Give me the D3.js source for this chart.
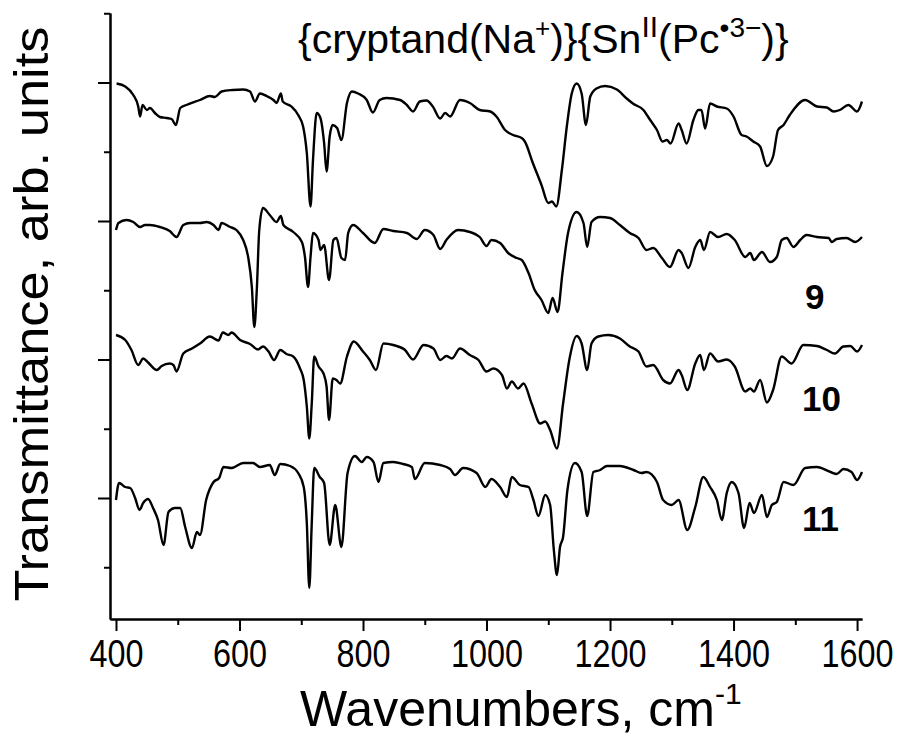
<!DOCTYPE html>
<html>
<head>
<meta charset="utf-8">
<script src="https://cdn.jsdelivr.net/npm/d3@7/dist/d3.min.js"></script>
<style>
  html, body { margin: 0; padding: 0; background: #fff; }
  svg { display: block; }
</style>
</head>
<body>
<script>
// ---- Data (wavenumber in cm-1, transmittance in arb. units relative to each trace's baseline) ----
const seriesNames = ["{cryptand(Na+)}{SnII(Pc•3−)}", "9", "10", "11"];
const seriesOffsets = [415.5, 277, 138.5, 0];

const wn1 = [401,415,428,436,439,443,450,455,463,471,482,490,497,504,514,536,552,560,571,589,606,617,625,633,644,655,660,667,670,684,695,703,709,715,719,725,731,737,741,746,751,758,765,774,782,792,806,816,827,838,860,871,881,892,903,913,925,933,941,957,973,989,1006,1016,1030,1043,1057,1062,1075,1089,1100,1106,1113,1122,1130,1138,1146,1154,1161,1168,1178,1192,1211,1227,1237,1254,1265,1276,1285,1292,1298,1311,1316,1324,1335,1343,1348,1354,1362,1373,1389,1400,1413,1421,1432,1443,1454,1464,1472,1481,1491,1516,1535,1551,1562,1572,1586,1600,1608];
const t1 = [-1,-4,-12.5,-24,-34,-22.5,-27.5,-25.5,-30.5,-34.5,-35.5,-36.5,-42.5,-25.5,-22.5,-17.5,-13.5,-14.5,-9,-7.5,-7,-9,-19,-11,-13.5,-17.5,-20.5,-11,-19,-24,-32.5,-44,-70.5,-124,-77.5,-30.5,-35.5,-60.5,-89,-54,-42.5,-45.5,-57.5,-20.5,-9,-11,-17.5,-30,-17.5,-15.5,-17.5,-22.5,-29,-19,-18,-24,-36,-30.5,-34,-17.5,-20.5,-27.5,-29,-34,-47.5,-52.5,-55.5,-59,-80.5,-102.5,-120.5,-119,-124,-87.5,-44,-11,-1,-11,-42.5,-14,-6,-3.5,-7,-16,-21,-27.5,-37.5,-47.5,-59,-57.5,-61,-41,-47.5,-61,-37.5,-27.5,-27.5,-46,-21,-24,-26,-34,-52.5,-54,-59,-64,-83.5,-74,-47.5,-42.5,-32.5,-17.5,-24,-25,-29,-27.5,-22.5,-29,-19];

const wn2 = [400,404,417,428,439,447,455,471,487,498,509,520,536,547,558,566,571,585,595,606,614,620,624,628,632,638,649,660,667,671,687,701,706,711,715,719,728,731,737,745,752,757,765,771,776,784,800,819,833,849,871,887,900,914,925,935,954,973,989,1000,1008,1022,1035,1049,1057,1068,1078,1089,1100,1107,1115,1123,1132,1146,1157,1163,1170,1184,1200,1216,1232,1246,1259,1270,1284,1297,1311,1316,1327,1338,1346,1352,1362,1375,1389,1402,1419,1427,1433,1446,1459,1470,1478,1486,1497,1508,1518,1535,1554,1559,1567,1583,1597,1608];
const t2 = [-9,-2,1,-1,-6,-4,-4,-6,-10,-16,-4,-2,-2,-1,-4,-9,-2,-6,-9,-19,-36,-66,-106,-69,-9,13,6,-1,5,-4,-11,-21,-36,-66,-36,-12,-19,-29,-24,-59,-19,-17,-37,-39,-12,-4,-12,-22,-8,-10,-12,-18,-9,-14,-28,-19,-9,-11,-16,-25,-19,-22,-32,-37,-39,-52,-69,-79,-92,-77,-91,-52,-12,9,-2,-26,-1,4,3,-4,-12,-17,-29,-27,-37,-46,-29,-32,-47,-26,-19,-29,-11,-16,-13,-19,-36,-32,-39,-31,-41,-36,-19,-17,-26,-19,-14,-16,-17,-21,-18,-17,-21,-16];

const wn3 = [400,415,425,436,444,452,466,474,487,493,498,509,523,536,552,566,573,582,587,601,617,630,638,647,656,666,676,687,698,704,709,713,717,721,728,736,741,745,751,757,763,774,785,800,811,821,833,849,868,881,898,914,925,935,944,957,973,987,1000,1011,1025,1033,1041,1051,1060,1073,1087,1095,1103,1114,1124,1134,1146,1154,1163,1170,1181,1197,1216,1232,1246,1259,1270,1286,1297,1311,1316,1325,1338,1346,1352,1362,1375,1389,1402,1419,1427,1433,1443,1454,1464,1478,1494,1513,1535,1551,1564,1578,1589,1600,1608];
const t3 = [24.5,19.5,9.5,-5.5,1,-3,-10.5,-6.5,-4,-5.5,-12,6,11,16,23,19,27,24.5,27,19.5,15.5,10,13,8,-0.5,9.5,5.5,3,-9,-20.5,-47,-79,-44,3,-7,-14,-27,-60.5,-19,-20.5,-24,3,18,8,-0.5,-10.5,16,14.5,9.5,0,14.5,11,-0.5,3.5,1,11,4.5,-0.5,-12,-9,-15.5,-29,-22,-29,-24,-44,-64,-62,-70.5,-89,-44,-0.5,23.5,16,-10.5,16,23,24.5,21,13,8,-7,-5.5,-20.5,-24,-10.5,-15.5,-30.5,-4,4.5,-10.5,6,-2,0,-7,-32,-29,-32,-20.5,-43,-30.5,3,-4,14.5,13.5,9.5,6,13,13.5,8,14.5];

const wn4 = [400,405,415,423,431,438,444,452,460,468,477,485,495,504,512,523,531,536,546,558,567,574,587,606,622,633,649,657,666,682,695,704,709,713,717,721,730,737,746,755,765,775,787,798,806,817,825,833,849,865,879,884,900,925,941,949,962,984,998,1008,1022,1033,1041,1054,1068,1076,1084,1095,1103,1109,1114,1119,1124,1131,1143,1154,1163,1173,1184,1195,1216,1238,1251,1259,1276,1286,1300,1311,1325,1338,1351,1362,1373,1381,1389,1397,1408,1417,1426,1433,1446,1454,1462,1470,1481,1497,1516,1535,1557,1567,1578,1591,1600,1608];
const t4 = [-2,15,11,10,0,-12,-5,-1,-10,-22,-47,-14,-10,-10,-29,-50,-34,-37,-2,16,20,31,30,35,35,31,33,23,34,32,25,11,-25,-90,-25,30,21,15,-47,-7,-49,25,42,36,41,36,16,35,36,34,31,19,35,33,29,23,30,25,11,19,11,1,21,13,11,-2,-18,3,-7,-52,-77,-49,-39,8,35,26,-18,26,28,32,32,28,25,26,16,-2,-7,-2,-32,-9,21,11,-2,-22,5,16,5,-30,-5,-15,3,-19,-7,-4,16,13,30,31,26,24,29,26,18,26];

const xMajorTicks = [400, 600, 800, 1000, 1200, 1400, 1600];
const xMinorTicks = [500, 700, 900, 1100, 1300, 1500];
const yMajorTicks = [0, 138.5, 277, 415.5];
const yMinorTicks = [-69.25, 69.25, 207.75, 346.25, 484.75];

const xLabel = "Wavenumbers, cm";
const xLabelSup = "-1";
const yLabel = "Transmittance, arb. units";
const compoundLabels = ["9", "10", "11"];

// ---- Build ----
const W = 900, H = 744;
const svg = d3.select("body").append("svg").attr("width", W).attr("height", H);

const x = d3.scaleLinear().domain([390.3, 1608]).range([110, 862]);
const y = d3.scaleLinear().domain([-121, 485]).range([619, 13]);

const spectra = [[wn1, t1], [wn2, t2], [wn3, t3], [wn4, t4]].map(([w, t], i) =>
  w.slice(0, Math.min(w.length, t.length)).map((v, j) => ({ w: v, t: t[j] + seriesOffsets[i] })));

const line = d3.line().x(d => x(d.w)).y(d => y(d.t)).curve(d3.curveMonotoneX);

svg.append("g").selectAll("path").data(spectra).join("path")
  .attr("d", line)
  .attr("fill", "none")
  .attr("stroke", "#000")
  .attr("stroke-width", 2.4)
  .attr("stroke-linejoin", "round");

// Axes
const axisStyle = g => {
  g.select(".domain").attr("stroke", "#000").attr("stroke-width", 2);
  g.selectAll(".tick line").attr("stroke", "#000").attr("stroke-width", 2);
};

svg.append("g").attr("transform", "translate(0,619)")
  .call(d3.axisBottom(x).tickValues(xMinorTicks).tickSize(6).tickSizeOuter(0).tickFormat(""))
  .call(axisStyle);

const gx = svg.append("g").attr("transform", "translate(0,619)")
  .call(d3.axisBottom(x).tickValues(xMajorTicks).tickSize(12).tickSizeOuter(0).tickPadding(9).tickFormat(d3.format("d")))
  .call(axisStyle);
gx.selectAll(".tick text")
  .attr("font-family", "'Liberation Sans Narrow', 'Arial Narrow', 'Liberation Sans', Arial, sans-serif")
  .attr("font-size", 38)
  .attr("fill", "#000")
  .attr("textLength", d => String(d).length * 18)
  .attr("lengthAdjust", "spacingAndGlyphs");

svg.append("g").attr("transform", "translate(110,0)")
  .call(d3.axisLeft(y).tickValues(yMinorTicks).tickSize(6).tickSizeOuter(0).tickFormat(""))
  .call(axisStyle);
svg.append("g").attr("transform", "translate(110,0)")
  .call(d3.axisLeft(y).tickValues(yMajorTicks).tickSize(12).tickSizeOuter(0).tickFormat(""))
  .call(axisStyle);

// Axis titles
const xt = svg.append("text")
  .attr("x", 300).attr("y", 726)
  .attr("font-family", "'Liberation Sans', Arial, sans-serif")
  .attr("font-size", 50)
  .attr("fill", "#000");
xt.append("tspan").text(xLabel);
xt.append("tspan").attr("font-size", 30).attr("dy", -22).text(xLabelSup);

svg.append("text")
  .attr("transform", "translate(48,314) rotate(-90)")
  .attr("text-anchor", "middle")
  .attr("font-family", "'Liberation Sans', Arial, sans-serif")
  .attr("font-size", 48)
  .attr("textLength", 575)
  .attr("lengthAdjust", "spacingAndGlyphs")
  .attr("fill", "#000")
  .text(yLabel);

// Title
const tt = svg.append("text")
  .attr("x", 298).attr("y", 53)
  .attr("font-family", "'Liberation Sans', Arial, sans-serif")
  .attr("font-size", 41)
  .attr("fill", "#000");
tt.append("tspan").text("{cryptand(Na");
tt.append("tspan").attr("font-size", 26).attr("dy", -16).text("+");
tt.append("tspan").attr("dy", 16).text(")}{Sn");
tt.append("tspan").attr("font-size", 30).attr("dy", -16).text("II");
tt.append("tspan").attr("dy", 16).text("(Pc");
tt.append("tspan").attr("font-size", 28).attr("dy", -16).text("•3−");
tt.append("tspan").attr("dy", 16).text(")}");

// Compound labels
const labelPos = [[805, 309], [802, 411], [802, 531]];
svg.append("g").selectAll("text").data(compoundLabels).join("text")
  .attr("x", (d, i) => labelPos[i][0])
  .attr("y", (d, i) => labelPos[i][1])
  .attr("font-family", "'Liberation Sans', Arial, sans-serif")
  .attr("font-weight", "bold")
  .attr("font-size", 35)
  .attr("fill", "#000")
  .text(d => d);
</script>
</body>
</html>
